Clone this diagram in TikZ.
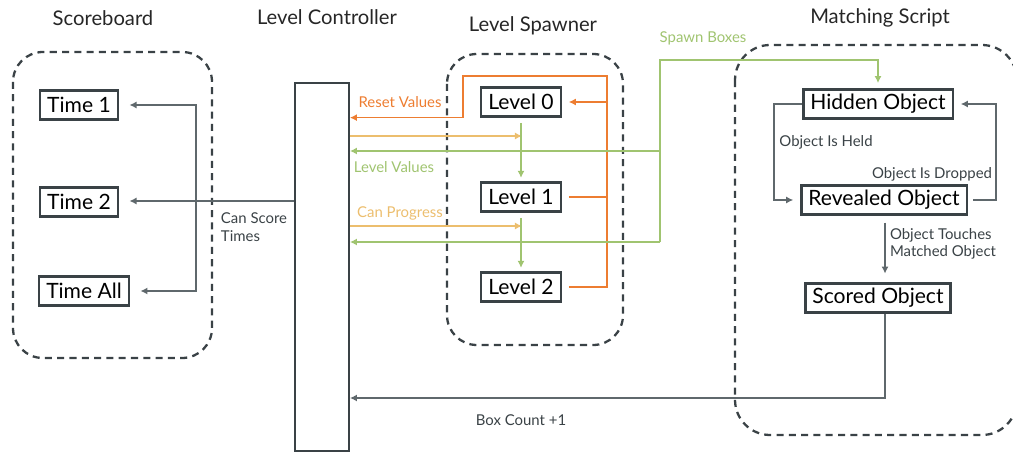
\documentclass[tikz,border=0pt]{standalone}
\usepackage{fontspec}
\setmainfont{Lato}
\usetikzlibrary{arrows.meta,positioning}
\definecolor{ink}{RGB}{58,66,70}
\definecolor{wire}{RGB}{95,104,108}
\definecolor{resetc}{RGB}{237,125,49}
\definecolor{progc}{RGB}{236,190,110}
\definecolor{valc}{RGB}{160,196,112}
\tikzset{lbox/.style={draw=ink, line width=1.3pt, inner xsep=4pt, inner ysep=0pt, minimum height=0.58cm, font=\fontsize{12}{14}\selectfont}}
\tikzset{group/.style={draw=ink, line width=1.3pt, dash pattern=on 4pt off 3pt, rounded corners=17pt}}
\tikzset{title/.style={font=\fontsize{11.5}{13}\selectfont, text=black!85}}
\tikzset{lbl/.style={font=\fontsize{8.5}{10}\selectfont, text=ink, align=left, inner sep=0pt}}
\tikzset{arr/.style={draw=wire, line width=0.7pt, -{Latex[length=4pt,width=4pt]}, shorten >=4pt}}
\tikzset{rline/.style={arr, draw=resetc}, pline/.style={arr, draw=progc, shorten >=0pt}, vline/.style={arr, draw=valc}}

\begin{document}
\begin{tikzpicture}[x=0.02cm, y=-0.02cm]
        \useasboundingbox (0,0) rectangle (1013,452);

        \node[title] (tScore) at (103,18) {Scoreboard};
        \node[title] (tCtrl) at (327,17) {Level Controller};
        \node[title] (tSpawn) at (533,26) {Level Spawner};
        \node[title] (tMatch) at (880,18) {Matching Script};

        % dashed groups
        \draw[group] (13,52) rectangle (212,358);
        \draw[group] (447,54) rectangle (623,345);
        \draw[group, rounded corners=20pt] (735,45) rectangle (1017,435);

        \node[draw=ink, line width=1.1pt, minimum width=1.08cm, minimum height=7.36cm, inner sep=0pt] (ctrl) at (322,267) {};

        \node[lbox] (t1) at (79,105) {Time 1};
        \node[lbox] (t2) at (79,202) {Time 2};
        \node[lbox] (tall) at (84,291) {Time All};

        \node[lbox] (l0) at (521,102) {Level 0};
        \node[lbox] (l1) at (521,197) {Level 1};
        \node[lbox] (l2) at (521,287) {Level 2};

        \node[lbox] (hid) at (878,104) {Hidden Object};
        \node[lbox] (rev) at (884,200) {Revealed Object};
        \node[lbox] (sco) at (878,298) {Scored Object};

        \node[lbl] (cst) at (254,227) {Can Score\\Times};
        \node[lbl, text=resetc] (rvl) at (400,102) {Reset Values};
        \node[lbl, text=valc] (lvl) at (394,167) {Level Values};
        \node[lbl, text=progc] (cpl) at (400,213) {Can Progress};
        \node[lbl, text=valc] (sbl) at (703,38) {Spawn Boxes};
        \node[lbl] (ohl) at (826,142) {Object Is Held};
        \node[lbl] (odl) at (932,174) {Object Is Dropped};
        \node[lbl] (otl) at (943,244) {Object Touches\\Matched Object};
        \node[lbl] (bcl) at (521,420) {Box Count +1};

        \coordinate (sbus) at (196,201);
        \coordinate (otop) at (607,76);
        \coordinate (obend) at (463,76);
        \coordinate (cp1) at (522,136);
        \coordinate (cp2) at (522,226);
        \coordinate (gtop) at (660,60);
        \coordinate (gv1) at (660,151);
        \coordinate (gv2) at (660,242);
        \coordinate (heldx) at (774,150);
        \coordinate (dropx) at (996,150);
        \coordinate (bc) at (885,398);

        % scoreboard
        \begin{scope}[arr, shorten >=6pt]
            \draw (ctrl.west |- sbus) -- (t2.east |- sbus);
            \draw (sbus) |- (t1.east);
            \draw (sbus) |- (tall.east);
        \end{scope}

        % level spawner
        \draw[rline, -, shorten <=4pt, shorten >=0pt] (l1.east) -- (l1.east -| otop);
        \draw[rline, shorten <=4pt, shorten >=0pt] (l2.east) -| (otop) -- (obend) |- (ctrl.east |- l0.south);
        \draw[rline] (otop |- l0.east) -- (l0.east);
        \draw[pline] (ctrl.east |- cp1) -- (cp1);
        \draw[pline] (ctrl.east |- cp2) -- (cp2);
        \draw[vline, shorten <=3pt, shorten >=2pt] (l0.south) -- (l1.north);
        \draw[vline, shorten <=3pt, shorten >=2pt] (l1.south) -- (l2.north);
        \draw[vline, shorten >=0pt] (gv1) -- (ctrl.east |- gv1);
        \draw[vline, shorten >=0pt] (gv2) -- (ctrl.east |- gv2);
        \draw[vline, shorten >=3pt] (gv2) -- (gtop) -| (hid.north);

        % matching script
        \draw[arr] (hid.west) -| (heldx) |- (rev.west);
        \draw[arr, shorten <=3pt] (rev.east) -| (dropx) |- (hid.east);
        \draw[arr, shorten <=4pt, shorten >=5pt] (rev.south -| bc) -- (sco.north -| bc);
        \draw[arr, shorten >=0pt] (sco.south -| bc) -- (bc) -- (ctrl.east |- bc);
    \end{tikzpicture}
\end{document}
